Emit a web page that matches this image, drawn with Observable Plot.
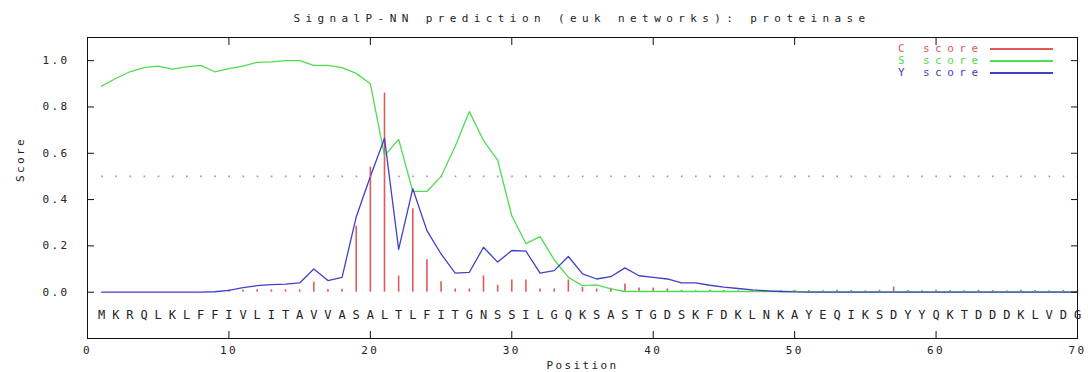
<!DOCTYPE html>
<html>
<head>
<meta charset="utf-8">
<script src="https://cdn.jsdelivr.net/npm/d3@7"></script>
<script src="https://cdn.jsdelivr.net/npm/@observablehq/plot@0.6"></script>
<style>
  html, body { margin: 0; padding: 0; background: #fff; }
  #wrap { position: relative; width: 1088px; height: 372px; overflow: hidden; }
  #title { height: 30px; line-height: 37px; text-align: center; padding-left: 76px;
           font-family: "DejaVu Sans Mono", monospace; font-size: 11px; letter-spacing: 5.4px; color: #222; white-space: nowrap; }
  #legend { position: absolute; left: 0; top: 0; width: 1088px; height: 100px; pointer-events: none; }
  .lrow { position: absolute; height: 12px; font-family: "DejaVu Sans Mono", monospace; font-size: 11px; letter-spacing: 5.5px; line-height: 12px; white-space: pre; }
  .lline { position: absolute; left: 990px; width: 63px; height: 2px; }
  svg { display: block; }
</style>
</head>
<body>
<div id="wrap">
  <div id="title"></div>
  <div id="chart"></div>
  <div id="legend"></div>
</div>
<script>
// ---- data ----
const titleText = "SignalP-NN prediction (euk networks): proteinase";
const sequence = "MKRQLKLFFIVLITAVVASALTLFITGNSSILGQKSASTGDSKFDKLNKAYEQIKSDYYQKTDDDKLVDG";
const cScore = [0,0,0,0,0,0,0,0,0,
  0.01,0.01,0.01,0.01,0.01,0.01,
  0.043,0.012,0.013,0.285,0.54,0.86,0.07,0.36,0.14,0.045,0.014,0.014,0.07,0.03,0.053,0.053,0.014,0.014,0.053,0.02,0.014,0.017,0.035,0.018,0.018,0.014,
  0.008,0.006,0.008,0.007,0.006,0.008,0.007,0.006,0.008,0.007,0.006,0.008,0.007,0.006,0.008,
  0.022,
  0.007,0.006,0.008,0.007,0.006,0.008,0.007,0.006,0.008,0.007,0.006,0.008,0.007];
const sScore = [0.89,0.923,0.952,0.97,0.976,0.963,0.973,0.98,0.952,0.966,
  0.976,0.993,0.995,1.0,1.0,0.98,0.98,0.97,0.945,0.90,
  0.59,0.66,0.435,0.435,0.50,0.63,0.78,0.655,0.57,0.33,
  0.21,0.24,0.14,0.064,0.028,0.032,0.014,0.003,0.003,0.003,
  0.003,0.003,0.003,0.003,0.003,0.003,0.003,0.003,0.003,0.003,
  0.001,0.001,0.001,0.001,0.001,0.001,0.001,0.001,0.001,0.001,
  0.001,0.001,0.001,0.001,0.001,0.001,0.001,0.001,0.001,0.001];
const yScore = [0,0,0,0,0,0,0,0,0.002,
  0.008,0.02,0.028,0.033,0.035,0.04,0.10,0.05,0.064,0.325,0.50,0.665,0.185,0.447,0.266,0.165,0.082,0.086,0.194,0.13,0.18,0.177,0.082,0.093,0.154,0.079,0.057,0.067,0.105,0.071,0.064,0.057,0.04,0.04,0.03,0.022,0.016,0.01,0.006,0.003,0.001,
  0.0005,0.0005,0.0005,0.0005,0.0005,0.0005,0.0005,0.0005,0.0005,0.0005,
  0.0005,0.0005,0.0005,0.0005,0.0005,0.0005,0.0005,0.0005,0.0005,0.0005];
const threshold = 0.5;
const seqRow = -0.1;
const xTicks = [0,10,20,30,40,50,60,70];
const yTicks = [0.0,0.2,0.4,0.6,0.8,1.0];
const xLabel = "Position";
const yLabel = "Score";
const seriesNames = ["C score","S score","Y score"];
const seriesColors = ["#e05a5a","#50dc50","#4040c8"];

// ---- table ----
const rows = Array.from(sequence, (aa, i) => ({pos: i + 1, aa, c: cScore[i], s: sScore[i], y: yScore[i]}));
const firstPos = rows[0].pos, lastPos = rows[rows.length - 1].pos;

const font = "DejaVu Sans Mono, monospace";
const chart = Plot.plot({
  width: 1088,
  height: 342,
  marginLeft: 87,
  marginRight: 11,
  marginTop: 7,
  marginBottom: 34,
  style: {fontFamily: font, fontSize: "11px", color: "#222", background: "#fff"},
  x: {domain: [0, 70]},
  y: {domain: [-0.2, 1.1]},
  marks: [
    Plot.ruleX(rows, {x: "pos", y1: 0, y2: "c", stroke: seriesColors[0], strokeWidth: 1.6}),
    Plot.lineY(rows, {x: "pos", y: "s", stroke: seriesColors[1], strokeWidth: 1.3}),
    Plot.lineY(rows, {x: "pos", y: "y", stroke: seriesColors[2], strokeWidth: 1.3}),
    Plot.ruleY([threshold], {x1: firstPos, x2: lastPos, stroke: "#c080d0", strokeWidth: 1.6, strokeDasharray: "1.6,12.54"}),
    Plot.text(rows, {x: "pos", y: seqRow, text: "aa", fontSize: 12, fill: "#222", fontFamily: font}),
    Plot.frame({stroke: "#111", strokeWidth: 1}),
    // inward ticks on all four sides
    Plot.axisX({anchor: "bottom", ticks: xTicks, tickSize: -7, fill: "none", label: null, stroke: "#111"}),
    Plot.axisX({anchor: "top", ticks: xTicks, tickSize: -7, fill: "none", label: null, stroke: "#111"}),
    Plot.axisY({anchor: "left", ticks: yTicks, tickSize: -7, fill: "none", label: null, stroke: "#111"}),
    Plot.axisY({anchor: "right", ticks: yTicks, tickSize: -7, fill: "none", label: null, stroke: "#111"}),
    // tick labels
    Plot.axisX({anchor: "bottom", ticks: xTicks, tickSize: 0, tickPadding: 8, tickFormat: d3.format("d"),
      label: xLabel, labelAnchor: "center", labelOffset: 30, labelArrow: "none"}),
    Plot.axisY({anchor: "left", ticks: yTicks, tickSize: 0, tickPadding: 18, tickFormat: d3.format(".1f"), label: null}),
    // y axis title
    Plot.text([yLabel], {frameAnchor: "left", rotate: -90, dx: -67, dy: -6, fontSize: 11, fill: "#222", fontFamily: font})
  ]
});
chart.querySelectorAll("text").forEach(t => { t.style.letterSpacing = "2.4px"; });
chart.querySelectorAll("[aria-label='text'] text").forEach(t => { if (t.textContent.length === 1) t.style.letterSpacing = "0px"; });
document.getElementById("chart").appendChild(chart);
document.getElementById("title").textContent = titleText;

// legend (inside the plot, top right, as in the reference)
const legend = document.getElementById("legend");
const rowTops = [43, 55, 67];
seriesNames.forEach((name, i) => {
  const [key, word] = name.split(" ");
  [[key, 898], [word, 923]].forEach(([txt, left]) => {
    const t = document.createElement("div");
    t.className = "lrow";
    t.style.top = rowTops[i] + "px";
    t.style.left = left + "px";
    t.style.color = seriesColors[i];
    t.textContent = txt;
    legend.appendChild(t);
  });
  const l = document.createElement("div");
  l.className = "lline";
  l.style.top = (rowTops[i] + 5) + "px";
  l.style.backgroundColor = seriesColors[i];
  legend.appendChild(l);
});
</script>
</body>
</html>
